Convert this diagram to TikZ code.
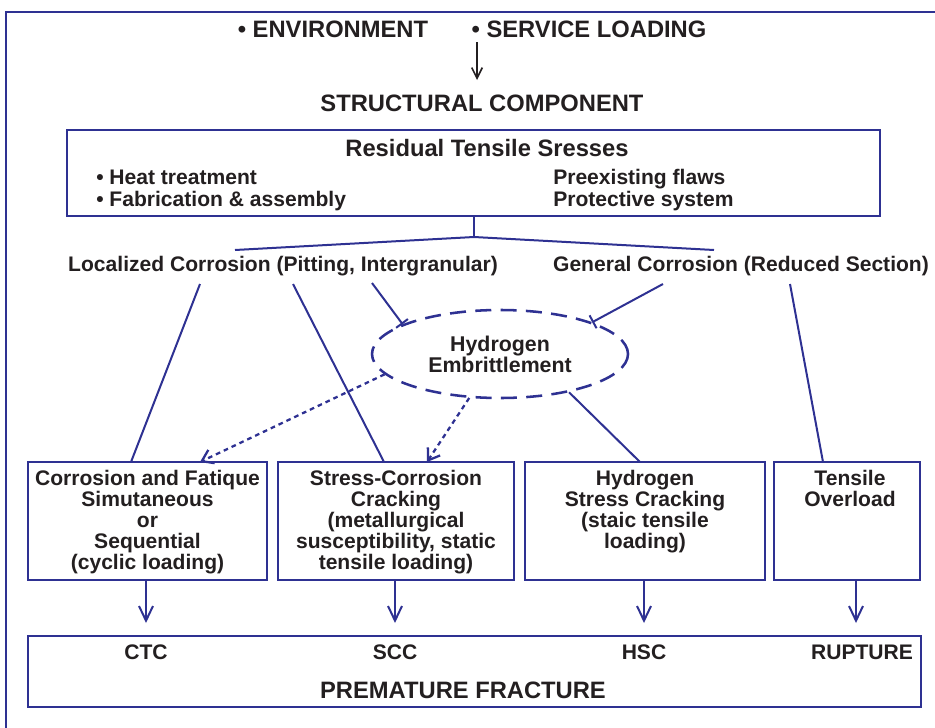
\documentclass[tikz,border=0pt]{standalone}
\usepackage{fontspec}
\setmainfont{Liberation Sans}
\usetikzlibrary{arrows.meta,shapes.geometric,fit}
\definecolor{frameblue}{RGB}{46,49,146}
\definecolor{inkgray}{RGB}{35,31,32}
\tikzset{
  bigtxt/.style={inner sep=0pt, text=inkgray, font=\bfseries\fontsize{17.8pt}{20pt}\selectfont},
  midtxt/.style={inner sep=0pt, text=inkgray, font=\bfseries\fontsize{15.8pt}{16.5pt}\selectfont},
  boxtxt/.style={inner sep=0pt, text=inkgray, align=center, anchor=north, font=\bfseries\fontsize{15.8pt}{15.8pt}\selectfont},
  panel/.style={draw=frameblue, line width=2.2pt, inner sep=0pt},
  link/.style={draw=frameblue, line width=1.5pt},
  blocked/.style={link, -{Bar[width=11pt]}},
  dotlink/.style={link, line width=1.7pt, dash pattern=on 3.5pt off 3pt, -{Straight Barb[length=8pt,width=11pt]}},
  downarrow/.style={link, -{Straight Barb[length=11pt,width=10.5pt]}},
  hydro/.style={ellipse, draw=frameblue, line width=1.9pt, dash pattern=on 12pt off 7pt,
    minimum width=192pt, minimum height=66pt, inner sep=0pt, align=center, text=inkgray,
    font=\bfseries\fontsize{16pt}{15.8pt}\selectfont}
}
\begin{document}
\begin{tikzpicture}[x=0.75pt, y=-0.75pt]
  \useasboundingbox (0,0) rectangle (935,728);
  \clip (0,0) rectangle (935,728);
  \draw[frameblue, line width=2.2pt] (6,740) -- (6,12) -- (945,12);

  % inputs
  \node[bigtxt] (env) at (333,29) {\textbullet\ ENVIRONMENT};
  \node[bigtxt] (svc) at (589,29) {\textbullet\ SERVICE LOADING};
  \node[bigtxt] (comp) at (482,103) {STRUCTURAL COMPONENT};
  \coordinate (svcdot) at (477,42);
  \coordinate (compin) at (477,80);
  \draw[inkgray, line width=1.2pt, -{Straight Barb[length=8pt,width=8pt]}] (svcdot) -- (compin);

  % residual stresses
  \node[panel, fit={(67,130) (880,216)}] (resid) {};
  \node[bigtxt] (residtitle) at (487,148) {Residual Tensile Sresses};
  \node[midtxt, anchor=west, align=left] (resleft) at (96,190) {\textbullet\ Heat treatment\\\textbullet\ Fabrication \& assembly};
  \node[midtxt, anchor=west, align=left] (resright) at (553,190) {Preexisting flaws\\Protective system};
  \coordinate (fork) at (474,237);
  \coordinate (forkl) at (235,250);
  \coordinate (forkr) at (714,250);
  \draw[link] (resid.south -| fork) -- (fork);
  \draw[link] (forkl) -- (fork) -- (forkr);

  % corrosion
  \node[midtxt] (loc) at (283,266) {Localized Corrosion (Pitting, Intergranular)};
  \node[midtxt] (gen) at (741,266) {General Corrosion (Reduced Section)};
  \node[hydro] (he) at (500,354) {Hydrogen\\Embrittlement};

  % mechanisms
  \node[panel, fit={(28,462) (267,580)}] (ctcbox) {};
  \node[panel, fit={(278,462) (514,580)}] (sccbox) {};
  \node[panel, fit={(525,462) (765,580)}] (hscbox) {};
  \node[panel, fit={(774,462) (920,580)}] (tobox) {};
  \node[boxtxt] (ctc) at (147.5,470) {Corrosion and Fatique\\Simutaneous\\or\\Sequential\\(cyclic loading)};
  \node[boxtxt] (scc) at (396,470) {Stress-Corrosion\\Cracking\\(metallurgical\\susceptibility, static\\tensile loading)};
  \node[boxtxt] (hsc) at (645,470) {Hydrogen\\Stress Cracking\\(staic tensile\\loading)};
  \node[boxtxt] (tov) at (850,470) {Tensile\\Overload};

  \coordinate (loca) at (200,284);
  \coordinate (locb) at (293,284);
  \coordinate (locc) at (372,283);
  \coordinate (gena) at (663,284);
  \coordinate (genb) at (790,284);
  \coordinate (ctcin) at (131,462);
  \coordinate (ctche) at (200,462);
  \coordinate (sccin) at (384,462);
  \coordinate (scche) at (427,462);
  \coordinate (hscin) at (640,462);
  \coordinate (toin) at (823,462);
  \draw[link] (loca) -- (ctcin);
  \draw[link] (locb) -- (sccin);
  \draw[blocked] (locc) -- (he.163);
  \draw[blocked] (gena) -- (he.19);
  \draw[link] (genb) -- (toin);
  \draw[link] (he.-29) -- (hscin);
  \draw[dotlink] (he.190) -- (ctche);
  \draw[dotlink] (he.235) -- (scche);

  % outcome
  \node[panel, fit={(28,636) (921,707)}] (fracbox) {};
  \node[midtxt] (ctcout) at (146,652) {CTC};
  \node[midtxt] (sccout) at (395,652) {SCC};
  \node[midtxt] (hscout) at (644,652) {HSC};
  \node[midtxt] (rupout) at (862,652) {RUPTURE};
  \node[bigtxt] (fracture) at (463,690) {PREMATURE FRACTURE};
  \coordinate (arrowend) at (0,623);
  \coordinate (toout) at (856,580);
  \draw[downarrow] (ctcbox.south -| ctcout) -- (arrowend -| ctcout);
  \draw[downarrow] (sccbox.south -| sccout) -- (arrowend -| sccout);
  \draw[downarrow] (hscbox.south -| hscout) -- (arrowend -| hscout);
  \draw[downarrow] (toout) -- (arrowend -| toout);
\end{tikzpicture}
\end{document}
